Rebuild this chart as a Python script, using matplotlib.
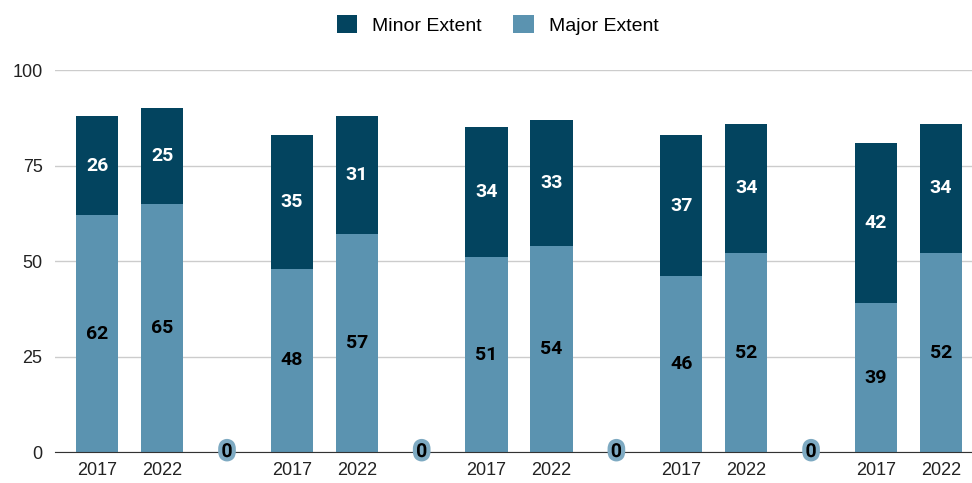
import matplotlib
matplotlib.use("Agg")
import matplotlib.pyplot as plt
import matplotlib.patheffects as pe
import numpy as np

plt.rcParams['font.family'] = ['Liberation Sans', 'DejaVu Sans']

# categories, blanks are the separators between groups
categories = ["2017", "2022", "", "2017", "2022", "", "2017", "2022", "",
              "2017", "2022", "", "2017", "2022"]
major = [62, 65, 0, 48, 57, 0, 51, 54, 0, 46, 52, 0, 39, 52]
minor = [26, 25, 0, 35, 31, 0, 34, 33, 0, 37, 34, 0, 42, 34]

dark = "#03445f"
light = "#5b93b0"
lab_font = ['Roboto', 'DejaVu Sans']

fig = plt.figure(figsize=(9.72, 4.83), dpi=100)
ax = fig.add_axes([0.0566, 0.064, 0.9434, 0.791])

x = np.arange(len(categories))
w = 0.65
ax.bar(x, major, w, color=light, label="Major Extent", zorder=3)
ax.bar(x, minor, w, bottom=major, color=dark, label="Minor Extent", zorder=3)

for i in range(len(categories)):
    if categories[i] == "":
        ax.text(x[i], 0, "0", ha="center", va="center", fontsize=14,
                fontweight="bold", color="black", zorder=5, family=lab_font,
                path_effects=[pe.withStroke(linewidth=6, foreground="#7eaac2")])
        continue
    ax.text(x[i], major[i] / 2, str(major[i]), ha="center", va="center",
            fontsize=14, fontweight="bold", color="black", zorder=4, family=lab_font)
    ax.text(x[i], major[i] + minor[i] / 2, str(minor[i]), ha="center", va="center",
            fontsize=14, fontweight="bold", color="white", zorder=4, family=lab_font)

ax.set_xlim(-0.65, 13.48)
ax.set_ylim(0, 100)
ax.set_yticks([0, 25, 50, 75, 100])
ax.set_xticks(x)
ax.set_xticklabels(categories)
ax.tick_params(axis="both", length=0, labelsize=13, colors="#222222")
ax.tick_params(axis="y", pad=9)
ax.tick_params(axis="x", pad=7)
ax.grid(axis="y", color="#cccccc", linewidth=1, zorder=0)
for s in ["top", "right", "left"]:
    ax.spines[s].set_visible(False)
ax.spines["bottom"].set_color("#333333")
ax.spines["bottom"].set_zorder(4)

h, l = ax.get_legend_handles_labels()
fig.legend(h[::-1], l[::-1], loc="center", bbox_to_anchor=(0.512, 0.948),
           ncol=2, frameon=False, fontsize=14, handlelength=1.05, handleheight=1.05,
           columnspacing=1.6, handletextpad=0.77)

plt.savefig("out.png", dpi=100)
